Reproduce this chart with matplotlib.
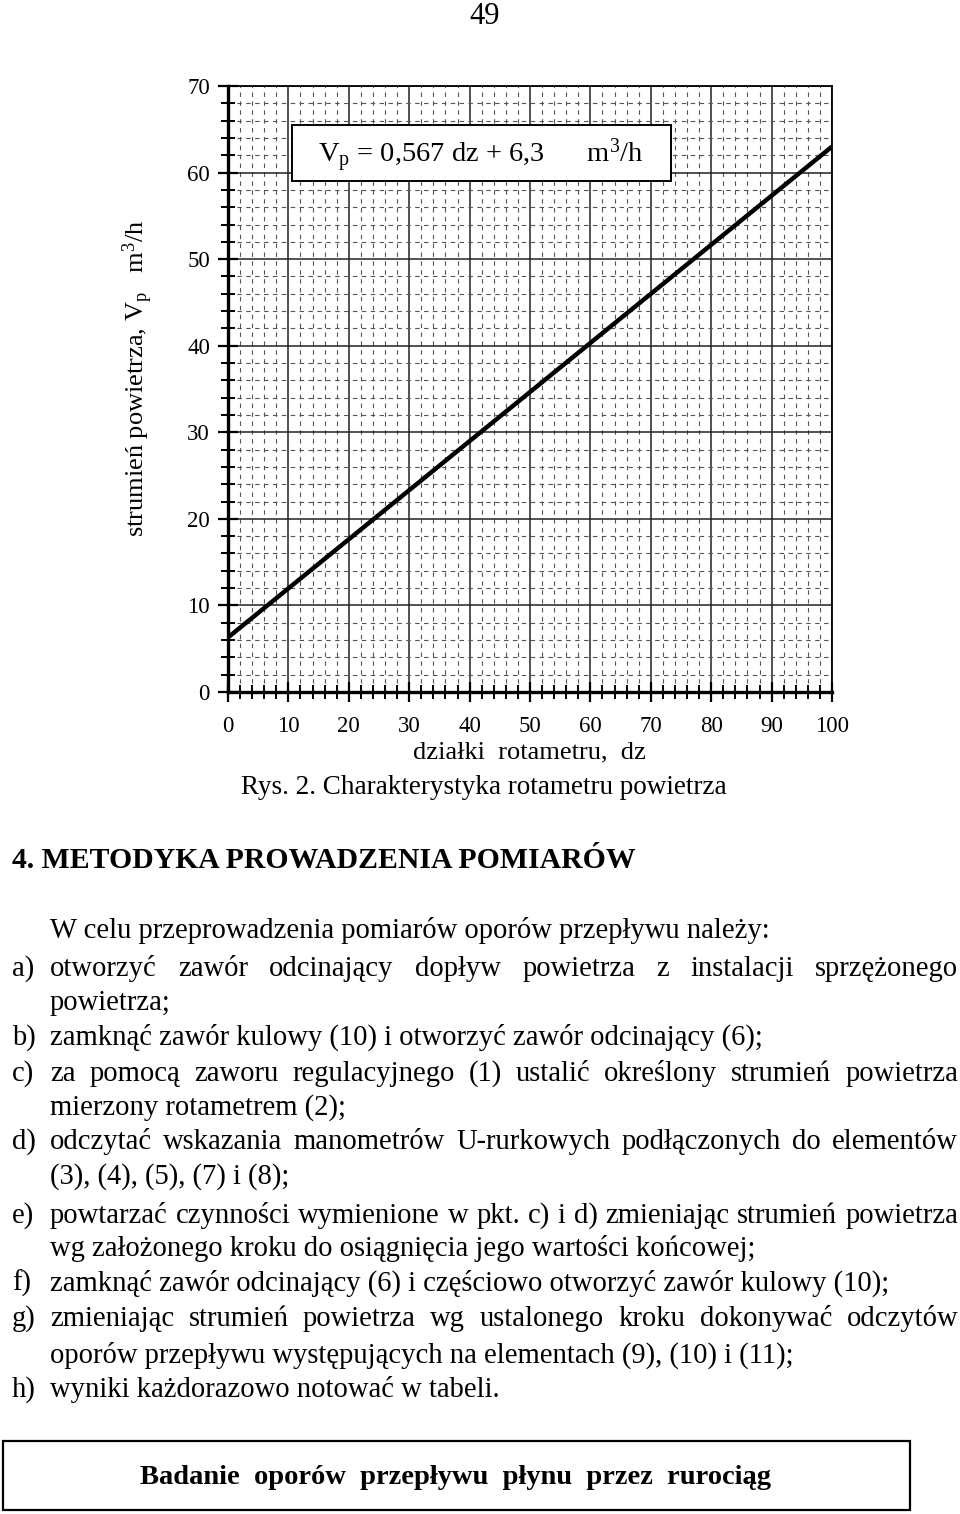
import numpy as np
import matplotlib
matplotlib.use("Agg")
import matplotlib.pyplot as plt
from matplotlib.patches import Rectangle
from matplotlib.ticker import MultipleLocator

plt.rcParams['font.family'] = ['Liberation Serif', 'DejaVu Serif']
plt.rcParams['mathtext.fontset'] = 'custom'
plt.rcParams['mathtext.rm'] = 'Liberation Serif'
plt.rcParams['mathtext.it'] = 'Liberation Serif:italic'

# data: rotameter scale vs air flow
dz = [0, 100]
vp = [6.3, 63.0]
eq_label = r"V$_\mathrm{p}$ = 0,567 dz + 6,3      m$^3$/h"
x_ticks = [0, 10, 20, 30, 40, 50, 60, 70, 80, 90, 100]
y_ticks = [0, 10, 20, 30, 40, 50, 60, 70]

W, H = 960, 1514
FS = 16.5      # tick labels
BODY = 20.6    # body text

fig = plt.figure(figsize=(W / 100, H / 100), dpi=100)
ax = fig.add_axes([228 / W, 1 - 692 / H, (832 - 228) / W, (692 - 86) / H])


def px(x, y):
    # top-left pixel -> figure fraction
    return x / W, 1 - y / H


ax.set_xlim(0, 100)
ax.set_ylim(0, 70)
ax.set_xticks(x_ticks)
ax.set_yticks(y_ticks)
ax.xaxis.set_minor_locator(MultipleLocator(2))
ax.yaxis.set_minor_locator(MultipleLocator(2))
ax.tick_params(which='major', direction='inout', length=14, width=1.6, labelsize=FS)
ax.tick_params(which='minor', direction='inout', length=10, width=1.4)
ax.tick_params(axis='x', which='major', pad=10)
ax.tick_params(axis='y', which='major', pad=6)
ax.grid(which='major', color='#222222', lw=1.1, ls='-')
ax.grid(which='minor', color='#555555', lw=0.8, ls=(0, (4, 4)))
ax.set_axisbelow(True)
for s in ['left', 'bottom']:
    ax.spines[s].set_linewidth(2.4)
for s in ['top', 'right']:
    ax.spines[s].set_linewidth(1.3)

ax.plot(dz, vp, color='black', lw=3.2, solid_capstyle='butt', zorder=5)

# equation box
x0, y0 = px(292, 181)
x1, y1 = px(671, 125)
fig.patches.append(Rectangle((x0, y0), x1 - x0, y1 - y0, transform=fig.transFigure,
                             facecolor='white', edgecolor='black', lw=1.4, zorder=3))
fig.text(*px(481, 156), eq_label, fontsize=20.5, ha='center', va='center', zorder=4)

# axis labels
fig.text(*px(138, 378), r"strumień powietrza, V$_\mathrm{p}$   m$^3$/h",
         fontsize=19, rotation=90, ha='center', va='center')
fig.text(*px(529, 752), "działki  rotametru,  dz", fontsize=19, ha='center', va='center')
fig.text(*px(484, 788), "Rys. 2. Charakterystyka rotametru powietrza", fontsize=19.5,
         ha='center', va='center')
fig.text(*px(485, 16), "49", fontsize=22, ha='center', va='center')

renderer = fig.canvas.get_renderer()


def put_line(ycen, text, x_left=50, x_right=958, justify=False, size=BODY, weight='normal'):
    yb = ycen + 8
    if not justify:
        fig.text(*px(x_left, yb), text, fontsize=size, weight=weight, va='baseline')
        return
    words = text.split()
    objs = [fig.text(0, 0, w, fontsize=size, weight=weight, va='baseline') for w in words]
    widths = [o.get_window_extent(renderer).width for o in objs]
    gap = (x_right - x_left - sum(widths)) / (len(words) - 1)
    x = x_left
    for o, w in zip(objs, widths):
        o.set_position(px(x, yb))
        x += w + gap


put_line(860, "4. METODYKA PROWADZENIA POMIARÓW", x_left=12, size=21.4, weight='bold')
put_line(930, "W celu przeprowadzenia pomiarów oporów przepływu należy:")

labels = [("a)", 968), ("b)", 1037), ("c)", 1073), ("d)", 1141), ("e)", 1215),
          ("f)", 1283), ("g)", 1318), ("h)", 1389)]
for lab, yy in labels:
    put_line(yy, lab, x_left=12)

put_line(968, "otworzyć zawór odcinający dopływ powietrza z instalacji sprzężonego", justify=True)
put_line(1002, "powietrza;")
put_line(1037, "zamknąć zawór kulowy (10) i otworzyć zawór odcinający (6);")
put_line(1073, "za pomocą zaworu regulacyjnego (1) ustalić określony strumień powietrza", justify=True)
put_line(1107, "mierzony rotametrem (2);")
put_line(1141, "odczytać wskazania manometrów U-rurkowych podłączonych do elementów", justify=True)
put_line(1176, "(3), (4), (5), (7) i (8);")
put_line(1215, "powtarzać czynności wymienione w pkt. c) i d) zmieniając strumień powietrza", justify=True)
put_line(1248, "wg założonego kroku do osiągnięcia jego wartości końcowej;")
put_line(1283, "zamknąć zawór odcinający (6) i częściowo otworzyć zawór kulowy (10);")
put_line(1318, "zmieniając strumień powietrza wg ustalonego kroku dokonywać odczytów", justify=True)
put_line(1355, "oporów przepływu występujących na elementach (9), (10) i (11);")
put_line(1389, "wyniki każdorazowo notować w tabeli.")

# footer box
bx0, by0 = px(3, 1510)
bx1, by1 = px(910, 1441)
fig.patches.append(Rectangle((bx0, by0), bx1 - bx0, by1 - by0, transform=fig.transFigure,
                             facecolor='none', edgecolor='black', lw=1.6))
fig.text(*px(456, 1478), "Badanie  oporów  przepływu  płynu  przez  rurociąg",
         fontsize=20.5, weight='bold', ha='center', va='center')

fig.savefig("out.png", dpi=100)
